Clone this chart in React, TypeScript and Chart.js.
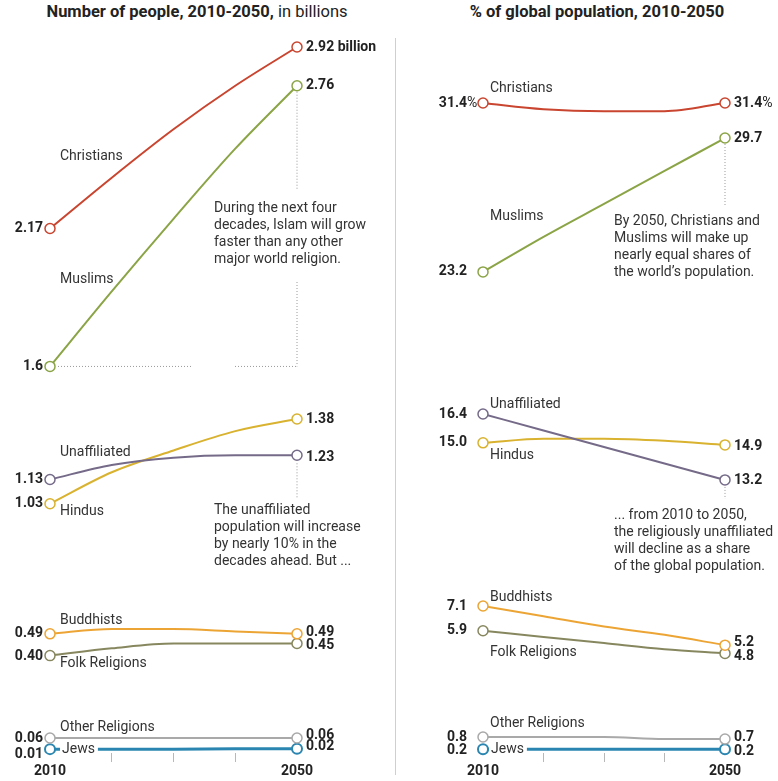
import React, { useEffect, useRef } from 'react';
import { Chart, registerables } from 'chart.js';

Chart.register(...registerables);

const FONT = 'Roboto, "Noto Sans", sans-serif';

// ---------- data ----------
const YEARS = ['2010', '2020', '2030', '2040', '2050'];
const RELIGIONS = ['Christians', 'Muslims', 'Unaffiliated', 'Hindus', 'Buddhists', 'Folk Religions', 'Other Religions', 'Jews'];

// Number of people, billions
const countChristians = [2.17, 2.38, 2.58, 2.76, 2.92];
const countMuslims = [1.6, 1.91, 2.21, 2.5, 2.76];
const countUnaffiliated = [1.13, 1.19, 1.22, 1.23, 1.23];
const countHindus = [1.03, 1.16, 1.25, 1.33, 1.38];
const countBuddhists = [0.49, 0.51, 0.51, 0.5, 0.49];
const countFolk = [0.4, 0.43, 0.45, 0.45, 0.45];
const countOther = [0.06, 0.06, 0.06, 0.06, 0.06];
const countJews = [0.014, 0.014, 0.014, 0.016, 0.016];
const countStartLabels = ['2.17', '1.6', '1.13', '1.03', '0.49', '0.40', '0.06', '0.01'];
const countEndLabels = ['2.92 billion', '2.76', '1.23', '1.38', '0.49', '0.45', '0.06', '0.02'];

// % of global population
const shareChristians = [31.4, 31.1, 31.0, 31.0, 31.4];
const shareMuslims = [23.2, 24.9, 26.5, 28.1, 29.7];
const shareUnaffiliated = [16.4, 15.6, 14.8, 14.0, 13.2];
const shareHindus = [15.0, 15.2, 15.2, 15.1, 14.9];
const shareBuddhists = [7.1, 6.6, 6.1, 5.7, 5.2];
const shareFolk = [5.9, 5.6, 5.3, 5.0, 4.8];
const shareOther = [0.8, 0.8, 0.8, 0.7, 0.7];
const shareJews = [0.2, 0.2, 0.2, 0.2, 0.2];
const shareStartLabels = ['31.4%', '23.2', '16.4', '15.0', '7.1', '5.9', '0.8', '0.2'];
const shareEndLabels = ['31.4%', '29.7', '13.2', '14.9', '5.2', '4.8', '0.7', '0.2'];

// ---------- styles / layout ----------
const COLORS = ['#c9452f', '#8ba446', '#756b89', '#d9b22f', '#eca535', '#87875f', '#a9a9a9', '#2a86b0'];
const LINE_W = [2, 2, 2, 2, 2, 2, 2, 3];
const SEGMENT = [0, 0, 1, 1, 2, 2, 3, 3];
const H = 781;
const T = 30;
const B = 753;

type Pt = (s: number, i: number) => { x: number; y: number };

type PanelDef = {
  width: number;
  series: number[][];
  startLabels: string[];
  endLabels: string[];
  ppu: number;
  segTopPx: number[];
  padLeft: number;
  padRight: number;
  startDx: number;
  hangPercent: boolean;
  endDx: number;
  startDy: number[];
  endDy: number[];
  nameDx: number[];
  nameDy: number[];
  notes: { x: number; y: number; lines: string[] }[];
  guides: (ctx: CanvasRenderingContext2D, pt: Pt) => void;
};

function dotted(ctx: CanvasRenderingContext2D, x1: number, y1: number, x2: number, y2: number) {
  ctx.save();
  ctx.strokeStyle = '#9a9a9a';
  ctx.lineWidth = 1;
  ctx.setLineDash([1, 2]);
  ctx.beginPath();
  ctx.moveTo(x1, y1);
  ctx.lineTo(x2, y2);
  ctx.stroke();
  ctx.restore();
}

const leftPanel: PanelDef = {
  width: 390,
  series: [countChristians, countMuslims, countUnaffiliated, countHindus, countBuddhists, countFolk, countOther, countJews],
  startLabels: countStartLabels,
  endLabels: countEndLabels,
  ppu: 242,
  segTopPx: [47, 419, 629, 738],
  padLeft: 50,
  padRight: 93,
  startDx: -7,
  hangPercent: false,
  endDx: 9,
  startDy: [0, 0, 0, 0, 0, 1, 0, 5],
  endDy: [0, 0, 2, 0, -1, 2, -3, -2],
  nameDx: [10, 10, 10, 10, 10, 10, 10, 12],
  nameDy: [-72, -87, -27, 8, -13, 8, -11, 0],
  notes: [
    { x: 214, y: 208, lines: ['During the next four', 'decades, Islam will grow', 'faster than any other', 'major world religion.'] },
    { x: 214, y: 510, lines: ['The unaffiliated', 'population will increase', 'by nearly 10% in the', 'decades ahead. But ...'] },
  ],
  guides: (ctx, pt) => {
    const mEnd = pt(1, 4);
    const mStart = pt(1, 0);
    dotted(ctx, mEnd.x, mEnd.y + 6, mEnd.x, 190);
    dotted(ctx, mEnd.x, 282, mEnd.x, mStart.y);
    dotted(ctx, mStart.x + 8, mStart.y, 192, mStart.y);
    dotted(ctx, 235, mStart.y, mEnd.x, mStart.y);
    const uEnd = pt(2, 4);
    dotted(ctx, uEnd.x, uEnd.y + 8, uEnd.x, 499);
  },
};

const rightPanel: PanelDef = {
  width: 388,
  series: [shareChristians, shareMuslims, shareUnaffiliated, shareHindus, shareBuddhists, shareFolk, shareOther, shareJews],
  startLabels: shareStartLabels,
  endLabels: shareEndLabels,
  ppu: 20.6,
  segTopPx: [103, 414, 606, 737],
  padLeft: 93,
  padRight: 53,
  startDx: -16,
  hangPercent: true,
  endDx: 9,
  startDy: [0, 0, 0, 0, 0, 0, 0, 1],
  endDy: [0, 0, 1, 2, -3, 3, -2, 2],
  nameDx: [7, 7, 7, 7, 7, 7, 7, 8],
  nameDy: [-15, -55, -10, 13, -9, 22, -14, 0],
  notes: [
    { x: 224, y: 221, lines: ['By 2050, Christians and', 'Muslims will make up', 'nearly equal shares of', 'the world\u2019s population.'] },
    { x: 224, y: 515, lines: ['... from 2010 to 2050,', 'the religiously unaffiliated', 'will decline as a share', 'of the global population.'] },
  ],
  guides: (ctx, pt) => {
    const mEnd = pt(1, 4);
    dotted(ctx, mEnd.x, mEnd.y + 6, mEnd.x, 205);
    const uEnd = pt(2, 4);
    dotted(ctx, uEnd.x, uEnd.y + 7, uEnd.x, 499);
  },
};

function makeOverlay(p: PanelDef) {
  return {
    id: 'overlay',
    beforeDatasetsDraw(chart: any) {
      const ctx: CanvasRenderingContext2D = chart.ctx;
      const pt: Pt = (s, i) => {
        const el = chart.getDatasetMeta(s).data[i];
        return { x: el.x, y: el.y };
      };
      p.guides(ctx, pt);
      ctx.save();
      ctx.font = `14px ${FONT}`;
      ctx.fillStyle = '#333';
      ctx.textAlign = 'left';
      ctx.textBaseline = 'middle';
      p.notes.forEach((n) => {
        n.lines.forEach((line, i) => ctx.fillText(line, n.x, n.y + i * 17.3));
      });
      ctx.restore();
    },
    afterDatasetsDraw(chart: any) {
      const ctx: CanvasRenderingContext2D = chart.ctx;
      ctx.save();
      ctx.textBaseline = 'middle';
      RELIGIONS.forEach((name, k) => {
        const data = chart.getDatasetMeta(k).data;
        const p0 = data[0];
        const p4 = data[4];
        // series name
        ctx.font = `14px ${FONT}`;
        ctx.textAlign = 'left';
        const nx = p0.x + p.nameDx[k];
        const ny = p0.y + p.nameDy[k];
        if (name === 'Jews') {
          const w = ctx.measureText(name).width;
          ctx.fillStyle = '#fff';
          ctx.fillRect(nx - 2, ny - 8, w + 5, 16);
        }
        ctx.fillStyle = '#333';
        ctx.fillText(name, nx, ny);
        // start value
        ctx.fillStyle = '#222';
        const sl = p.startLabels[k];
        const sx = p0.x + p.startDx;
        const sy = p0.y + p.startDy[k];
        if (p.hangPercent && sl.endsWith('%')) {
          ctx.font = `bold 14px ${FONT}`;
          ctx.textAlign = 'right';
          ctx.fillText(sl.slice(0, -1), sx, sy);
          ctx.font = `14px ${FONT}`;
          ctx.textAlign = 'left';
          ctx.fillText('%', sx, sy);
        } else {
          ctx.font = `bold 14px ${FONT}`;
          ctx.textAlign = 'right';
          ctx.fillText(sl, sx, sy);
        }
        // end value
        const el = p.endLabels[k];
        const ex = p4.x + p.endDx;
        const ey = p4.y + p.endDy[k];
        ctx.textAlign = 'left';
        if (el.endsWith('%')) {
          ctx.font = `bold 14px ${FONT}`;
          const num = el.slice(0, -1);
          ctx.fillText(num, ex, ey);
          const w = ctx.measureText(num).width;
          ctx.font = `14px ${FONT}`;
          ctx.fillText('%', ex + w, ey);
        } else {
          ctx.font = `bold 14px ${FONT}`;
          ctx.fillText(el, ex, ey);
        }
      });
      ctx.restore();
    },
  };
}

function buildConfig(p: PanelDef): any {
  const scales: any = {
    x: {
      type: 'category',
      offset: false,
      border: { display: false },
      grid: {
        drawOnChartArea: false,
        drawTicks: true,
        tickLength: 9,
        tickWidth: 1,
        color: (c: any) => (c.index === 0 || c.index === 4 ? 'rgba(0,0,0,0)' : '#b8b8b8'),
      },
      ticks: {
        autoSkip: false,
        maxRotation: 0,
        padding: 1,
        color: '#222',
        font: { family: FONT, size: 14, weight: 'bold' },
        callback: (_v: any, i: number) => (i === 0 || i === 4 ? YEARS[i] : ''),
      },
      afterFit: (s: any) => {
        s.height = H - B;
      },
    },
  };
  for (let g = 0; g < 4; g++) {
    const members = p.series.filter((_, k) => SEGMENT[k] === g);
    const top = Math.max(...members.flat());
    scales['g' + g] = {
      type: 'linear',
      display: false,
      min: top - (B - p.segTopPx[g]) / p.ppu,
      max: top + (p.segTopPx[g] - T) / p.ppu,
    };
  }
  return {
    type: 'line',
    data: {
      labels: YEARS,
      datasets: p.series.map((vals, k) => ({
        label: RELIGIONS[k],
        data: vals,
        yAxisID: 'g' + SEGMENT[k],
        borderColor: COLORS[k],
        backgroundColor: '#fff',
        borderWidth: LINE_W[k],
        pointRadius: [5, 0, 0, 0, 5],
        pointBorderWidth: k === 7 ? 2 : 1.5,
        pointBackgroundColor: '#fff',
        pointBorderColor: COLORS[k],
        cubicInterpolationMode: 'monotone',
        clip: false,
      })),
    },
    options: {
      responsive: false,
      animation: false,
      events: [],
      layout: { padding: { top: T, bottom: 0, left: p.padLeft, right: p.padRight } },
      plugins: { legend: { display: false }, tooltip: { enabled: false }, title: { display: false } },
      scales,
    },
    plugins: [makeOverlay(p)],
  };
}

function Panel({ def, left }: { def: PanelDef; left: number }) {
  const ref = useRef<HTMLCanvasElement>(null);
  useEffect(() => {
    const chart = new Chart(ref.current as HTMLCanvasElement, buildConfig(def));
    return () => chart.destroy();
  }, [def]);
  return (
    <div style={{ position: 'absolute', left, top: 0, width: def.width, height: H }}>
      <canvas ref={ref} width={def.width} height={H} style={{ width: def.width, height: H, display: 'block' }} />
    </div>
  );
}

export default function App() {
  return (
    <div style={{ position: 'absolute', left: 0, top: 0, width: 778, height: H, background: '#fff', overflow: 'hidden', fontFamily: FONT }}>
      <div style={{ position: 'absolute', left: 0, top: 2, width: 394, textAlign: 'center', fontSize: 16.5, lineHeight: '20px', color: '#222', whiteSpace: 'nowrap' }}>
        <b>Number of people, 2010-2050,</b> in billions
      </div>
      <div style={{ position: 'absolute', left: 404, top: 2, width: 386, textAlign: 'center', fontSize: 16.5, lineHeight: '20px', color: '#222', whiteSpace: 'nowrap' }}>
        <b>% of global population, 2010-2050</b>
      </div>
      <div style={{ position: 'absolute', left: 395, top: 38, width: 1, height: 737, background: '#cfcfcf' }} />
      <Panel def={leftPanel} left={0} />
      <Panel def={rightPanel} left={390} />
    </div>
  );
}
